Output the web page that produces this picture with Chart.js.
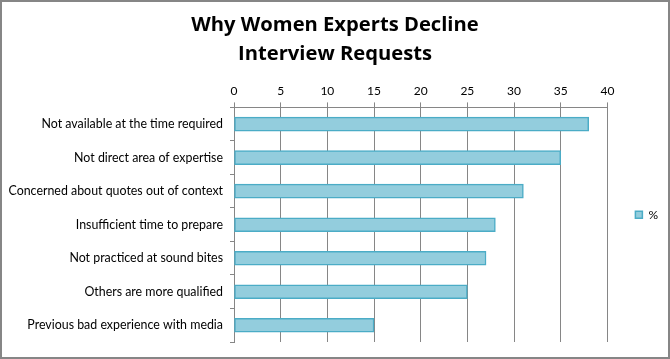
<!DOCTYPE html>
<html>
<head>
<meta charset="utf-8">
<script src="https://cdn.jsdelivr.net/npm/chart.js@4/dist/chart.umd.min.js"></script>
<style>
  html, body { margin:0; padding:0; background:#fff; }
  #wrap { position:relative; width:670px; height:359px; box-sizing:border-box; border:2px solid #868686; }
  #c { display:block; }
</style>
</head>
<body>
<div id="wrap"><canvas id="c" width="666" height="355"></canvas></div>
<script>
'use strict';

// ── data
const categories = [
  'Not available at the time required',
  'Not direct area of expertise',
  'Concerned about quotes out of context',
  'Insufficient time to prepare',
  'Not practiced at sound bites',
  'Others are more qualified',
  'Previous bad experience with media'
];
const percentValues = [38, 35, 31, 28, 27, 25, 15];
const seriesLabel   = '%';
const titleLines    = ['Why Women Experts Decline', 'Interview Requests'];

const FONT = 'Lato, "Liberation Sans", sans-serif';
const GRID = '#868686';

// legend sits a little above the plot's middle in the original
const legendNudge = {
  id: 'legendNudge',
  afterLayout(chart) {
    const lg = chart.legend;
    if (!lg) return;
    lg.top -= 10;
    lg.bottom -= 10;
  }
};

new Chart(document.getElementById('c'), {
  type: 'bar',
  data: {
    labels: categories,
    datasets: [{
      label: seriesLabel,
      data: percentValues,
      backgroundColor: '#93CDDD',
      borderColor: '#4BACC6',
      borderWidth: 1.5,
      borderSkipped: false,
      barThickness: 14
    }]
  },
  options: {
    indexAxis: 'y',
    responsive: false,
    animation: false,
    devicePixelRatio: 1,
    layout: { padding: { top: 0, right: 0, bottom: 15, left: 0 } },
    plugins: {
      title: {
        display: true,
        text: titleLines,
        color: '#000',
        font: { family: '"Open Sans", ' + FONT, size: 20.2, weight: 'bold', lineHeight: 1.436 },
        padding: { top: 9, bottom: 11 }
      },
      legend: {
        position: 'right',
        fullSize: false,
        labels: {
          color: '#000',
          font: { family: FONT, size: 12 },
          boxWidth: 7,
          boxHeight: 7,
          padding: 28
        }
      },
      tooltip: { enabled: false }
    },
    scales: {
      x: {
        position: 'top',
        min: 0,
        max: 40,
        ticks: { stepSize: 5, color: '#000', font: { family: FONT, size: 12 }, padding: 4 },
        grid: { color: GRID, lineWidth: 1, tickLength: 5, drawTicks: true },
        border: { color: GRID, width: 1 }
      },
      y: {
        afterFit(scale) { scale.width = 232; },
        ticks: { color: '#000', font: { family: FONT, size: 12.4 }, padding: 7 },
        grid: { drawOnChartArea: false, offset: true, color: GRID, tickLength: 4 },
        border: { color: GRID, width: 1 }
      }
    }
  },
  plugins: [legendNudge]
});
</script>
</body>
</html>
